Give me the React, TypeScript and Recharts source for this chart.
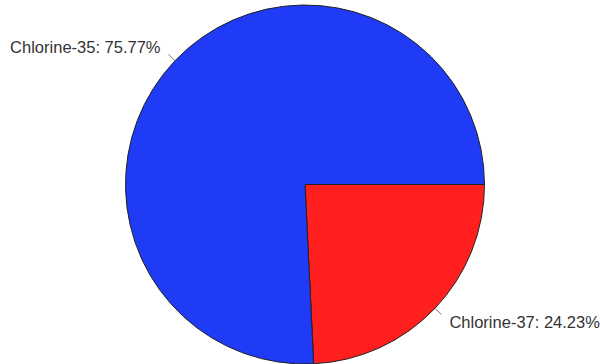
import { Cell, Pie, PieChart } from "recharts";

const isotopes = ["Chlorine-37", "Chlorine-35"];
const abundance = [24.23, 75.77];
const sliceColors = ["#FF1F1F", "#1F3BF5"];

const data = isotopes.map((name, i) => ({ name, value: abundance[i] }));

const RADIAN = Math.PI / 180;

const renderLabel = (props: any) => {
  const { cx, cy, midAngle, outerRadius, name, value } = props;
  const cos = Math.cos(-midAngle * RADIAN);
  const sin = Math.sin(-midAngle * RADIAN);
  const sx = cx + outerRadius * cos;
  const sy = cy + outerRadius * sin;
  const ex = cx + (outerRadius + 9) * cos;
  const ey = cy + (outerRadius + 9) * sin;
  const tx = cx + (outerRadius + 20) * cos;
  const ty = cy + (outerRadius + 20) * sin;
  return (
    <g>
      <line x1={sx} y1={sy} x2={ex} y2={ey} stroke="#777" strokeWidth={1} />
      <text
        x={tx}
        y={ty}
        textAnchor={cos >= 0 ? "start" : "end"}
        dominantBaseline="central"
        fill="#333"
        fontSize={16.5}
        fontFamily="'Liberation Sans', Arial, sans-serif"
      >
        {`${name}: ${value.toFixed(2)}%`}
      </text>
    </g>
  );
};

export default function App() {
  return (
    <div
      style={{
        position: "absolute",
        top: 0,
        left: 0,
        width: 600,
        height: 364,
        background: "#fff",
      }}
    >
      <PieChart
        width={600}
        height={364}
        margin={{ top: 0, right: 0, bottom: 0, left: 0 }}
      >
        <Pie
          data={data}
          dataKey="value"
          nameKey="name"
          cx={305}
          cy={184.5}
          outerRadius={179.5}
          startAngle={0}
          endAngle={-360}
          stroke="#222"
          strokeWidth={1}
          label={renderLabel}
          labelLine={false}
          isAnimationActive={false}
        >
          {data.map((d, i) => (
            <Cell key={d.name} fill={sliceColors[i]} />
          ))}
        </Pie>
      </PieChart>
    </div>
  );
}
